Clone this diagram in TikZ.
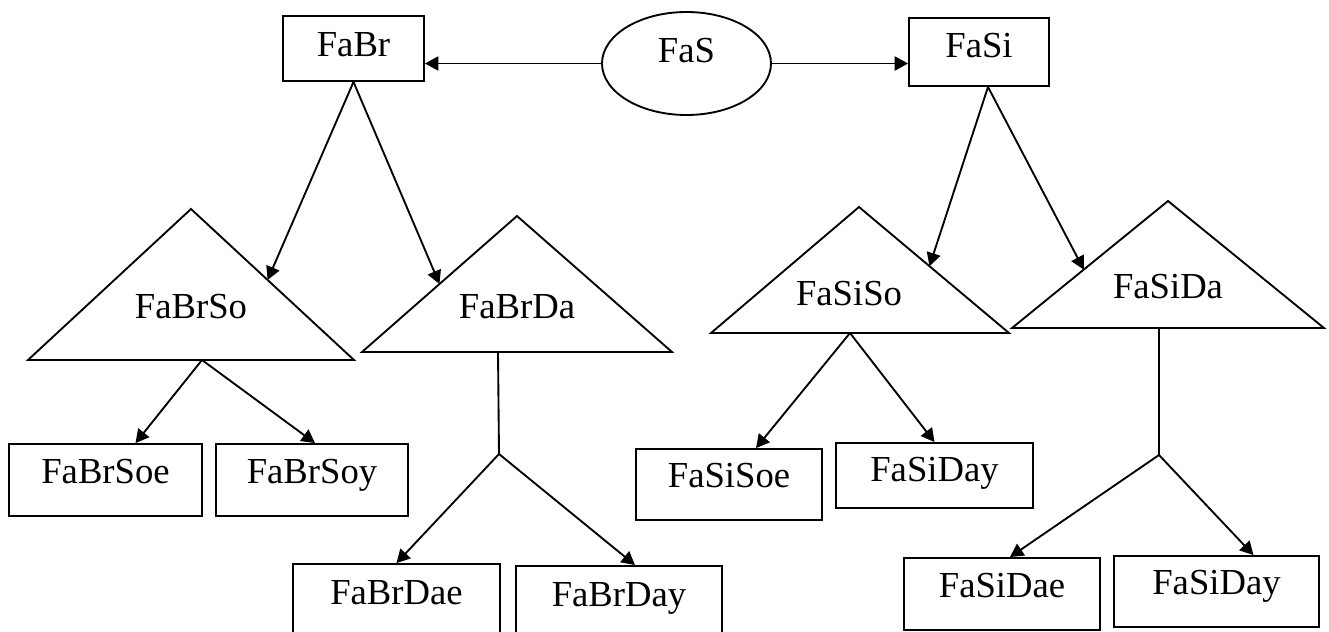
\documentclass[tikz,border=0pt]{standalone}
\usepackage{fontspec}
\setmainfont{Liberation Serif}
\usetikzlibrary{calc,arrows.meta,shapes.geometric}
\begin{document}
\begin{tikzpicture}[x=0.75pt,y=-0.75pt, line width=1.4pt,
  lbl/.style={font=\fontsize{27.5}{33}\selectfont, text height=0.7em, text depth=0.22em, inner sep=0pt},
  box/.style={lbl, draw, rectangle},
  wh/.style 2 args={minimum width=#1*0.75pt, minimum height=#2*0.75pt},
  arr/.style={-{Triangle[length=10pt,width=10.5pt]}},
  tri/.style={draw, line join=miter}]
\clip (0,0) rectangle (1329,632);
\useasboundingbox (0,0) rectangle (1329,632);
\fill[white] (0,0) rectangle (1329,632);

% top row
\node[box, wh={141}{65}] (FaBr) at (353.5,48.5) {\raisebox{-3.4pt}{FaBr}};
\node[lbl, draw, ellipse, wh={169}{103}] (FaS) at (686.5,63.5) {\raisebox{3.3pt}{FaS}};
\node[box, wh={140}{68}] (FaSi) at (979,52) {\raisebox{-1.6pt}{FaSi}};

% triangles
\coordinate (bso-t) at (191,209); \coordinate (bso-l) at (28,360); \coordinate (bso-r) at (354,360);
\draw[tri] (bso-t) -- (bso-l) -- (bso-r) -- cycle;
\node[lbl, anchor=base] (FaBrSo) at (191,318) {FaBrSo};

\coordinate (bda-t) at (517,216); \coordinate (bda-l) at (362,352); \coordinate (bda-r) at (672,352);
\draw[tri] (bda-t) -- (bda-l) -- (bda-r) -- cycle;
\node[lbl, anchor=base] (FaBrDa) at (517,318) {FaBrDa};

\coordinate (sso-t) at (859,207); \coordinate (sso-l) at (711,333); \coordinate (sso-r) at (1009,333);
\draw[tri] (sso-t) -- (sso-l) -- (sso-r) -- cycle;
\node[lbl, anchor=base] (FaSiSo) at (849,305) {FaSiSo};

\coordinate (sda-t) at (1168,201); \coordinate (sda-l) at (1012,328); \coordinate (sda-r) at (1324,328);
\draw[tri] (sda-t) -- (sda-l) -- (sda-r) -- cycle;
\node[lbl, anchor=base] (FaSiDa) at (1168,298) {FaSiDa};

% bottom boxes
\node[box, wh={193}{72}] (FaBrSoe) at (105.5,480) {FaBrSoe};
\node[box, wh={192}{72}] (FaBrSoy) at (312,480) {FaBrSoy};
\node[box, wh={207}{74}] (FaBrDae) at (396.5,601) {FaBrDae};
\node[box, wh={206}{74}] (FaBrDay) at (619,603) {FaBrDay};
\node[box, wh={186}{71}] (FaSiSoe) at (729,484.5) {FaSiSoe};
\node[box, wh={197}{65}] (FaSiDay1) at (934.5,475.5) {\raisebox{-2pt}{FaSiDay}};
\node[box, wh={196}{72}] (FaSiDae) at (1002,594) {FaSiDae};
\node[box, wh={205}{71}] (FaSiDay2) at (1216.5,591.5) {FaSiDay};

% connectors
\draw[arr] (FaS.west) -- (FaBr.east |- FaS.west);
\draw[arr] (FaS.east) -- (FaSi.west |- FaS.east);

\draw[arr] (FaBr.south) -- ($(bso-t)!0.47!(bso-r)$);
\draw[arr] (FaBr.south) -- ($(bda-t)!0.5!(bda-l)$);

\coordinate (FaSi-b) at ($(FaSi.south)+(9,0)$);
\draw[arr] (FaSi-b) -- ($(sso-t)!0.47!(sso-r)$);
\draw[arr] (FaSi-b) -- ($(sda-t)!0.54!(sda-l)$);

\coordinate (bso-b) at (202,360);
\draw[arr] (bso-b) -- ($(FaBrSoe.north)+(30,0)$);
\draw[arr] (bso-b) -- ($(FaBrSoy.north)+(3,0)$);

\coordinate (bda-b) at (498,352); \coordinate (bda-j) at (499,454);
\draw (bda-b) -- (bda-j);
\draw[arr] (bda-j) -- (FaBrDae.north);
\draw[arr] (bda-j) -- ($(FaBrDay.north)+(16,0)$);

\coordinate (sso-b) at (850,333);
\draw[arr] (sso-b) -- ($(FaSiSoe.north)+(27,0)$);
\draw[arr] (sso-b) -- (FaSiDay1.north);

\coordinate (sda-b) at (1159,328); \coordinate (sda-j) at (1159,455);
\draw (sda-b) -- (sda-j);
\draw[arr] (sda-j) -- ($(FaSiDae.north)+(8,0)$);
\draw[arr] (sda-j) -- ($(FaSiDay2.north)+(37,0)$);
\end{tikzpicture}
\end{document}
